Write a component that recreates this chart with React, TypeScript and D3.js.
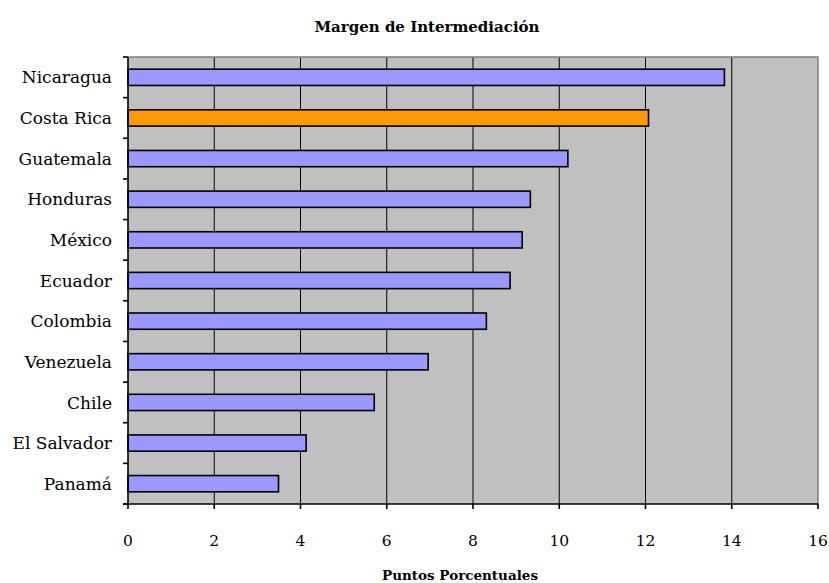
import React from "react";
import * as d3 from "d3";

// Country margins, top to bottom
const countries = [
  "Nicaragua",
  "Costa Rica",
  "Guatemala",
  "Honduras",
  "México",
  "Ecuador",
  "Colombia",
  "Venezuela",
  "Chile",
  "El Salvador",
  "Panamá",
];
const margins = [13.83, 12.07, 10.2, 9.33, 9.14, 8.86, 8.31, 6.96, 5.71, 4.13, 3.49];
const highlighted = ["Costa Rica"];
const xTicks = [0, 2, 4, 6, 8, 10, 12, 14, 16];

const W = 829;
const H = 583;
const plot = { left: 128, right: 818, top: 57, bottom: 504 };
const FONT = "DejaVu Serif, serif";

export default function App() {
  const x = d3.scaleLinear().domain([0, 16]).range([plot.left, plot.right]);
  const y = d3
    .scaleBand<string>()
    .domain(countries)
    .range([plot.top, plot.bottom])
    .paddingInner(0.6)
    .paddingOuter(0.3);
  const step = (plot.bottom - plot.top) / countries.length;
  const boundaries = d3.range(countries.length + 1).map((i) => plot.top + i * step);

  return (
    <svg
      width={W}
      height={H}
      style={{ position: "absolute", left: 0, top: 0, background: "#fff" }}
      fontFamily={FONT}
    >
      <text x={427} y={32} textAnchor="middle" fontSize={15} fontWeight="bold">
        Margen de Intermediación
      </text>

      {/* plot background */}
      <rect
        x={plot.left}
        y={plot.top}
        width={plot.right - plot.left}
        height={plot.bottom - plot.top}
        fill="#C0C0C0"
      />
      {/* vertical gridlines */}
      {xTicks.slice(1, -1).map((t) => (
        <line key={t} x1={x(t)} x2={x(t)} y1={plot.top} y2={plot.bottom} stroke="#000" strokeWidth={1} />
      ))}
      {/* gray frame on top and right */}
      <path
        d={`M${plot.left},${plot.top}H${plot.right}V${plot.bottom}`}
        fill="none"
        stroke="#808080"
        strokeWidth={1.5}
      />

      {/* bars */}
      {countries.map((c, i) => (
        <rect
          key={c}
          x={x(0)}
          y={y(c)!}
          width={x(margins[i]) - x(0)}
          height={y.bandwidth()}
          fill={highlighted.includes(c) ? "#FF9900" : "#9999FF"}
          stroke="#000"
          strokeWidth={1.6}
        />
      ))}

      {/* category axis */}
      <line x1={plot.left} x2={plot.left} y1={plot.top} y2={plot.bottom} stroke="#000" strokeWidth={1.6} />
      {boundaries.map((b, i) => (
        <line key={i} x1={plot.left - 5} x2={plot.left} y1={b} y2={b} stroke="#000" strokeWidth={1.6} />
      ))}
      {countries.map((c) => (
        <text
          key={c}
          x={plot.left - 16}
          y={y(c)! + y.bandwidth() / 2}
          dy="0.36em"
          textAnchor="end"
          fontSize={17}
        >
          {c}
        </text>
      ))}

      {/* value axis */}
      <line x1={plot.left - 5} x2={plot.right} y1={plot.bottom} y2={plot.bottom} stroke="#000" strokeWidth={1.6} />
      {xTicks.map((t) => (
        <g key={t}>
          <line x1={x(t)} x2={x(t)} y1={plot.bottom} y2={plot.bottom + 5} stroke="#000" strokeWidth={1.6} />
          <text x={x(t)} y={546} textAnchor="middle" fontSize={15.5}>
            {t}
          </text>
        </g>
      ))}

      <text x={460} y={580} textAnchor="middle" fontSize={13.5} fontWeight="bold">
        Puntos Porcentuales
      </text>
    </svg>
  );
}
